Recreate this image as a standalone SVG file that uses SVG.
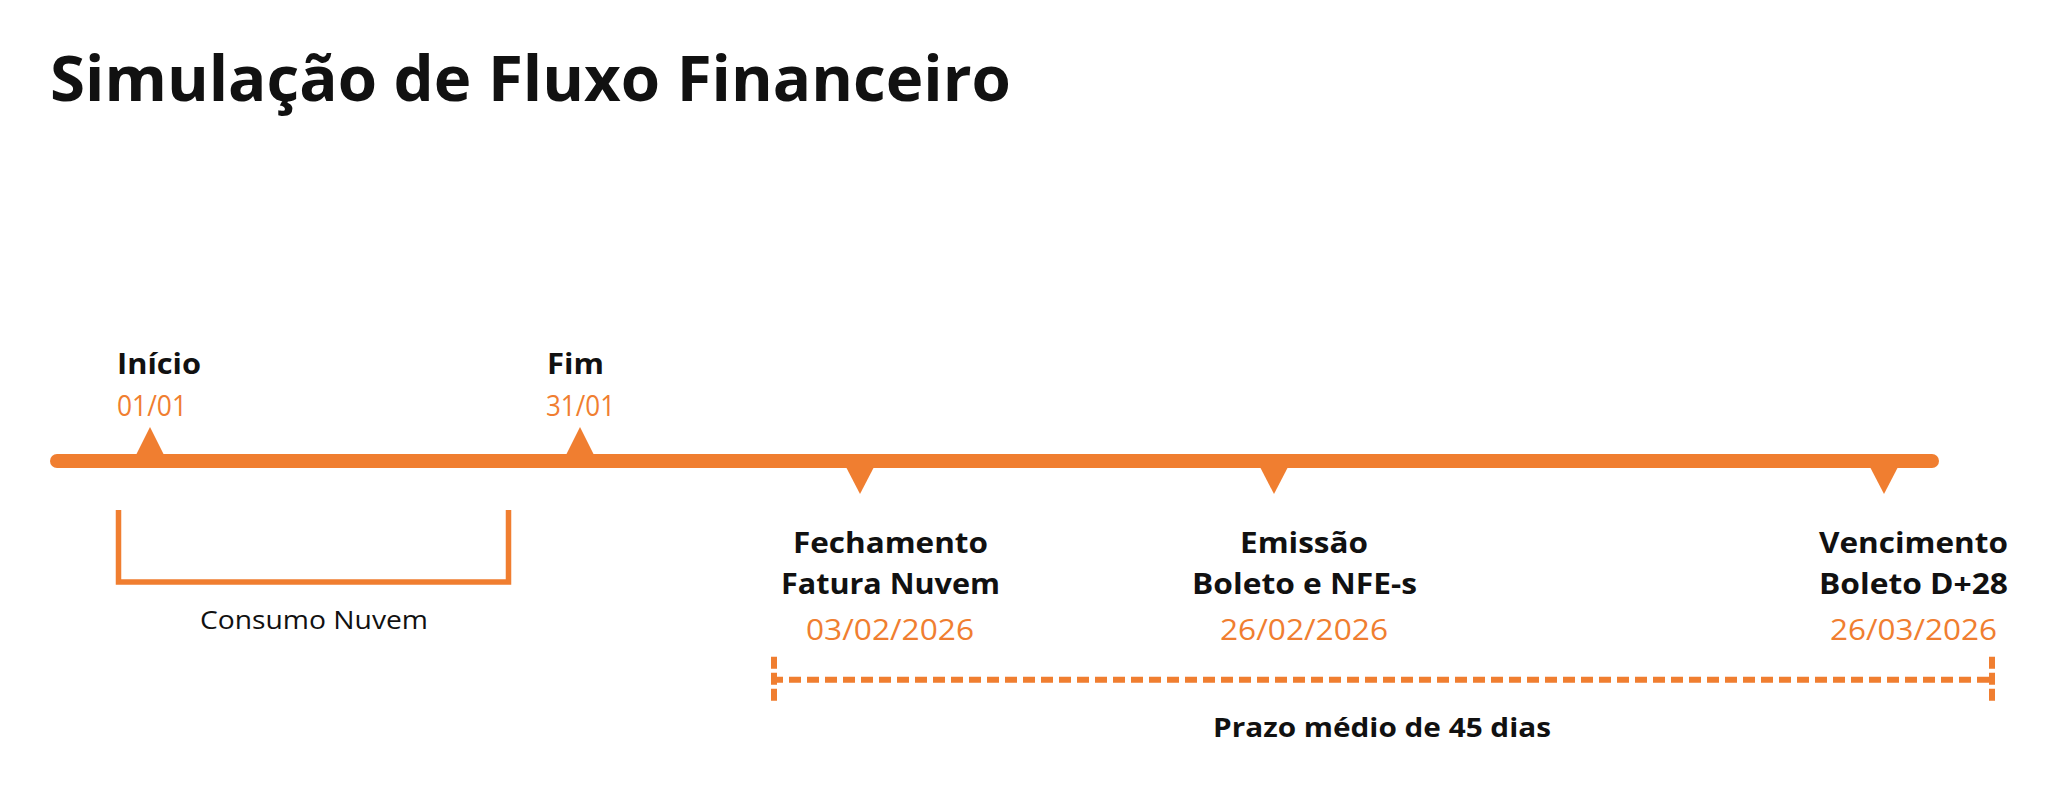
<svg xmlns="http://www.w3.org/2000/svg" width="2058" height="796" viewBox="0 0 2058 796">
<defs>
<style>
.bg{fill:#ffffff}
.title{font-family:"Open Sans","Liberation Sans",sans-serif;font-weight:700;font-size:63px;fill:#111111}
.lbl{font-family:"Open Sans","Liberation Sans",sans-serif;font-weight:700;font-size:29px;fill:#111111}
.date{font-family:"Open Sans","Liberation Sans",sans-serif;font-weight:500;font-size:30px;fill:#F07E30}
.note{font-family:"Open Sans","Liberation Sans",sans-serif;font-weight:500;font-size:25px;fill:#111111}
.note2{font-family:"Open Sans","Liberation Sans",sans-serif;font-weight:700;font-size:27px;fill:#111111}
.mid{text-anchor:middle}
.tri{fill:#F07E30}
.axis{stroke:#F07E30;stroke-width:14;stroke-linecap:round;fill:none}
.brk{stroke:#F07E30;stroke-width:5.5;fill:none}
.dash{stroke:#F07E30;stroke-width:6;fill:none}
</style>
</defs>
<rect class="bg" x="0" y="0" width="2058" height="796"/>
<g id="title">
<text class="title" x="50" y="101" textLength="961" lengthAdjust="spacingAndGlyphs">Simulação de Fluxo Financeiro</text>
</g>
<g id="connectors">
<line class="axis" x1="57" y1="461" x2="1932" y2="461"/>
<path class="brk" d="M118.5,510 V582 H508.5 V510"/>
<line class="dash" x1="771" y1="679.7" x2="1995" y2="679.7" stroke-dasharray="12 6"/>
<line class="dash" x1="774" y1="656.7" x2="774" y2="701" stroke-dasharray="12 4"/>
<line class="dash" x1="1992" y1="656.7" x2="1992" y2="701" stroke-dasharray="12 4"/>
</g>
<g id="node-inicio">
<polygon class="tri" points="136,455 164,455 150,427"/>
<text class="lbl" x="117" y="374" textLength="84" lengthAdjust="spacingAndGlyphs">Início</text>
<text class="date" x="117" y="416" textLength="70" lengthAdjust="spacingAndGlyphs">01/01</text>
</g>
<g id="node-fim">
<polygon class="tri" points="566,455 594,455 580,427"/>
<text class="lbl" x="547" y="374" textLength="57" lengthAdjust="spacingAndGlyphs">Fim</text>
<text class="date" x="546" y="416" textLength="69" lengthAdjust="spacingAndGlyphs">31/01</text>
</g>
<g id="node-consumo">
<text class="note mid" x="314" y="629" textLength="228" lengthAdjust="spacingAndGlyphs">Consumo Nuvem</text>
</g>
<g id="node-fechamento">
<polygon class="tri" points="846,467 874,467 860,494"/>
<text class="lbl mid" x="890.5" y="553" textLength="195" lengthAdjust="spacingAndGlyphs">Fechamento</text>
<text class="lbl mid" x="890.5" y="594" textLength="219" lengthAdjust="spacingAndGlyphs">Fatura Nuvem</text>
<text class="date mid" x="890" y="640" textLength="168" lengthAdjust="spacingAndGlyphs">03/02/2026</text>
</g>
<g id="node-emissao">
<polygon class="tri" points="1260,467 1288,467 1274,494"/>
<text class="lbl mid" x="1304" y="553" textLength="128" lengthAdjust="spacingAndGlyphs">Emissão</text>
<text class="lbl mid" x="1304.5" y="594" textLength="225" lengthAdjust="spacingAndGlyphs">Boleto e NFE-s</text>
<text class="date mid" x="1304" y="640" textLength="168" lengthAdjust="spacingAndGlyphs">26/02/2026</text>
</g>
<g id="node-vencimento">
<polygon class="tri" points="1870,467 1898,467 1884,494"/>
<text class="lbl mid" x="1913.5" y="553" textLength="189" lengthAdjust="spacingAndGlyphs">Vencimento</text>
<text class="lbl mid" x="1913.5" y="594" textLength="189" lengthAdjust="spacingAndGlyphs">Boleto D+28</text>
<text class="date mid" x="1913.5" y="640" textLength="167" lengthAdjust="spacingAndGlyphs">26/03/2026</text>
</g>
<g id="node-prazo">
<text class="note2 mid" x="1382" y="737" textLength="338" lengthAdjust="spacingAndGlyphs">Prazo médio de 45 dias</text>
</g>
</svg>
